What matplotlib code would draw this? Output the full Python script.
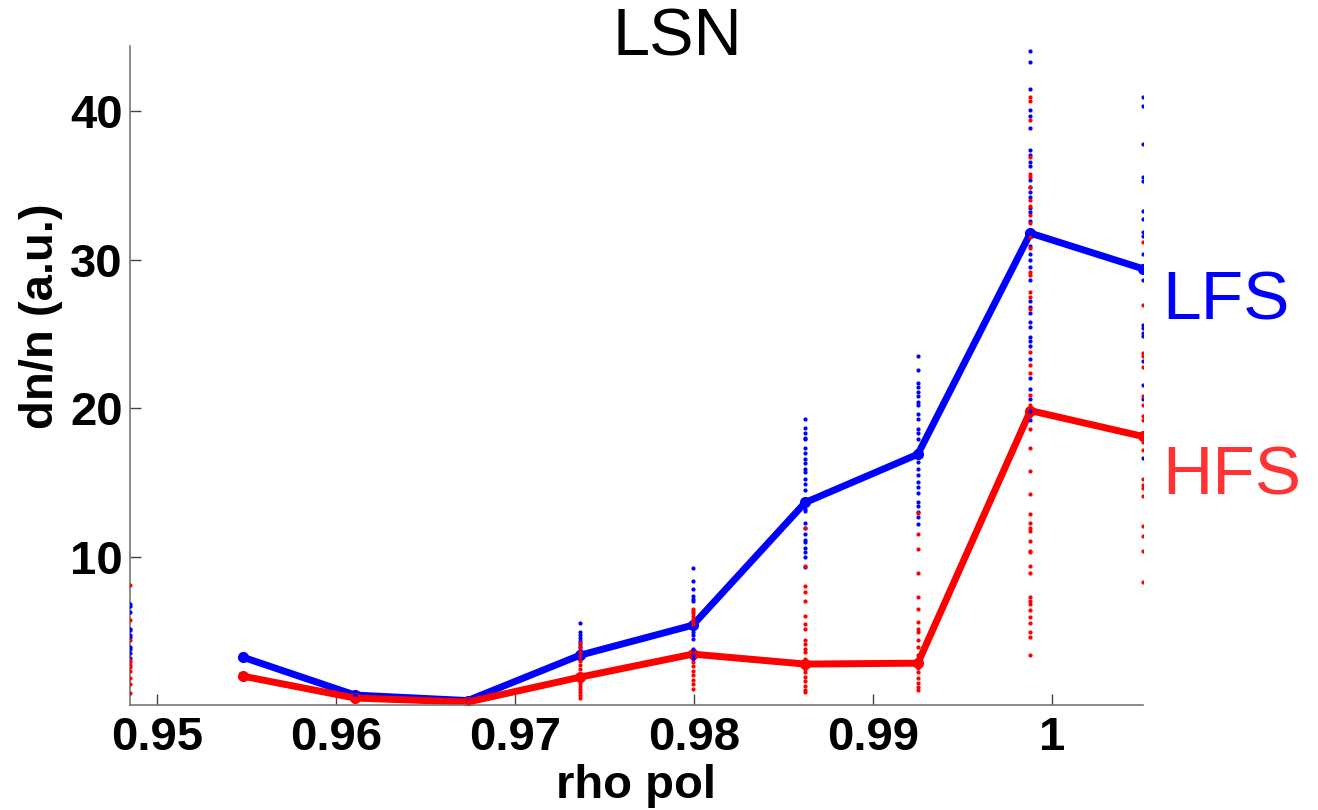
import matplotlib
matplotlib.use('Agg')
import matplotlib.pyplot as plt
import numpy as np

plt.rcParams['font.family'] = ['Liberation Sans', 'DejaVu Sans']

# rho pol positions of the channels
rho = [0.94847, 0.95476, 0.96105, 0.96734, 0.97363, 0.97992, 0.98621, 0.99250, 0.99879, 1.00508]

# mean dn/n per channel (first channel has no mean)
lfs_mean = [np.nan, 3.23, 0.67, 0.30, 3.36, 5.38, 13.65, 16.9, 31.8, 29.4]
hfs_mean = [np.nan, 1.95, 0.47, 0.20, 1.88, 3.43, 2.76, 2.82, 19.84, 18.1]

# individual samples per channel
lfs_pts = [
    [6.8, 6.7, 6.25, 5.15, 5.05, 4.7, 4.6, 3.9, 3.77, 3.5, 3.2],
    [3.3, 3.2],
    [0.7, 0.6],
    [0.35, 0.3],
    [5.5, 4.9, 4.7, 4.5, 4.3, 4.1, 3.9, 3.7, 3.5, 3.3, 3.1],
    [9.26, 8.36, 7.85, 7.35, 7.17, 7.0, 5.33, 5.1, 4.9, 4.7, 4.44, 3.77, 3.4, 3.1],
    [19.3, 18.7, 18.3, 18.0, 17.9, 17.35, 17.0, 16.6, 16.3, 15.9, 15.7, 15.2, 14.9,
     14.5, 13.85, 13.5, 13.2, 13.07, 12.3, 11.9, 11.5, 11.15, 10.96, 10.6, 10.3, 10.0, 9.28],
    [23.5, 22.6, 21.7, 21.45, 21.1, 20.8, 20.4, 20.25, 19.6, 19.25, 18.6, 18.35, 17.9,
     16.35, 15.9, 15.5, 15.0, 14.7, 14.3, 13.7, 13.4, 13.0, 12.65, 12.17],
    [44.1, 43.3, 41.5, 40.1, 39.7, 38.9, 37.4, 37.05, 36.6, 36.3, 35.4, 34.9, 34.6, 34.25,
     33.5, 33.2, 32.6, 31.9, 30.9, 30.4, 30.0, 29.5, 28.65, 27.2, 26.85, 26.4, 25.8, 25.5,
     24.8, 24.5, 24.2, 23.3, 22.05, 21.3, 20.6, 19.8, 19.2],
    [41.0, 40.35, 37.8, 35.6, 35.3, 33.3, 32.75, 31.9, 31.6, 30.4, 28.65, 25.6, 25.4,
     25.1, 24.9, 23.2, 21.6, 20.65, 16.65],
]
hfs_pts = [
    [8.07, 5.7, 4.4, 3.05, 2.9, 2.7, 2.55, 2.3, 1.85, 1.45, 0.8],
    [2.0, 1.9],
    [0.5, 0.4],
    [0.25, 0.15],
    [4.2, 3.9, 3.6, 3.3, 3.0, 2.7, 2.4, 2.1, 1.9, 1.7, 1.5, 1.3, 1.1, 0.9, 0.7, 0.5],
    [6.5, 6.34, 6.19, 6.0, 5.8, 5.6, 5.45, 2.9, 2.6, 2.3, 2.0, 1.7, 1.4, 1.1],
    [11.9, 9.4, 8.0, 7.6, 7.0, 6.0, 5.45, 5.1, 4.4, 4.1, 3.8, 3.55, 3.1, 2.8, 2.4,
     2.2, 1.9, 1.6, 1.3, 1.0, 0.9],
    [12.95, 11.5, 10.5, 8.9, 7.25, 6.45, 5.6, 5.1, 4.9, 4.4, 3.9, 3.4, 3.0, 2.5,
     2.2, 1.8, 1.5, 1.2, 1.0],
    [41.0, 40.7, 39.45, 36.9, 35.8, 35.6, 34.9, 34.0, 33.6, 33.0, 32.5, 31.55, 30.8,
     29.2, 29.0, 27.8, 27.5, 26.7, 23.8, 22.9, 22.4, 20.9, 20.2, 19.5, 18.6, 17.3,
     15.8, 14.2, 12.85, 12.3, 11.9, 11.7, 11.05, 10.4, 10.3, 9.37, 8.88, 7.26, 7.0,
     6.8, 6.4, 5.9, 5.5, 4.9, 4.6, 3.36],
    [31.2, 26.97, 23.75, 23.5, 22.8, 20.85, 20.2, 19.5, 19.2, 17.7, 17.2, 15.25, 14.86,
     14.6, 14.1, 12.06, 11.4, 10.35, 8.3],
]

xticks = [0.95, 0.96, 0.97, 0.98, 0.99, 1.0]
xticklabels = ['0.95', '0.96', '0.97', '0.98', '0.99', '1']
yticks = [10, 20, 30, 40]

blue = '#0000ff'
red = '#ff0000'

fig = plt.figure(figsize=(13.18, 8.10), dpi=100)
ax = fig.add_axes([0.0986, 0.1296, 0.7686, 0.8134])

for x, ys in zip(rho, lfs_pts):
    ax.plot([x] * len(ys), ys, '.', color=blue, markersize=4, zorder=3)
for x, ys in zip(rho, hfs_pts):
    ax.plot([x] * len(ys), ys, '.', color=red, markersize=4, zorder=3)

ax.plot(rho, lfs_mean, '-o', color=blue, linewidth=5, markersize=7, zorder=2)
ax.plot(rho, hfs_mean, '-o', color=red, linewidth=5, markersize=7, zorder=2)

ax.set_xlim(0.94847, 1.00508)
ax.set_ylim(0, 44.4)
ax.set_xticks(xticks)
ax.set_xticklabels(xticklabels)
ax.set_yticks(yticks)

for s in ['top', 'right']:
    ax.spines[s].set_visible(False)
for s in ['left', 'bottom']:
    ax.spines[s].set_color('#777777')
    ax.spines[s].set_linewidth(1.2)

ax.tick_params(direction='in', length=8, width=1, color='#444444', labelsize=34, pad=8)
ax.tick_params(axis='y', pad=5)
for lab in ax.get_xticklabels() + ax.get_yticklabels():
    lab.set_fontweight('bold')

ax.set_xlabel('rho pol', fontsize=34, fontweight='bold')
ax.xaxis.set_label_coords(0.5, -0.089, transform=ax.transAxes)
ax.xaxis.label.set_va('top')
ax.set_ylabel('dn/n (a.u.)', fontsize=34, fontweight='bold')
ax.yaxis.set_label_coords(-0.066, 0.59, transform=ax.transAxes)

fig.text(0.5137, 0.952, 'LSN', fontsize=48, ha='center', va='center')
fig.text(0.882, 0.605, 'LFS', fontsize=50, color=blue, ha='left', va='baseline')
fig.text(0.882, 0.389, 'HFS', fontsize=50, color='#ff3333', ha='left', va='baseline')

fig.savefig('out.png', dpi=100)
